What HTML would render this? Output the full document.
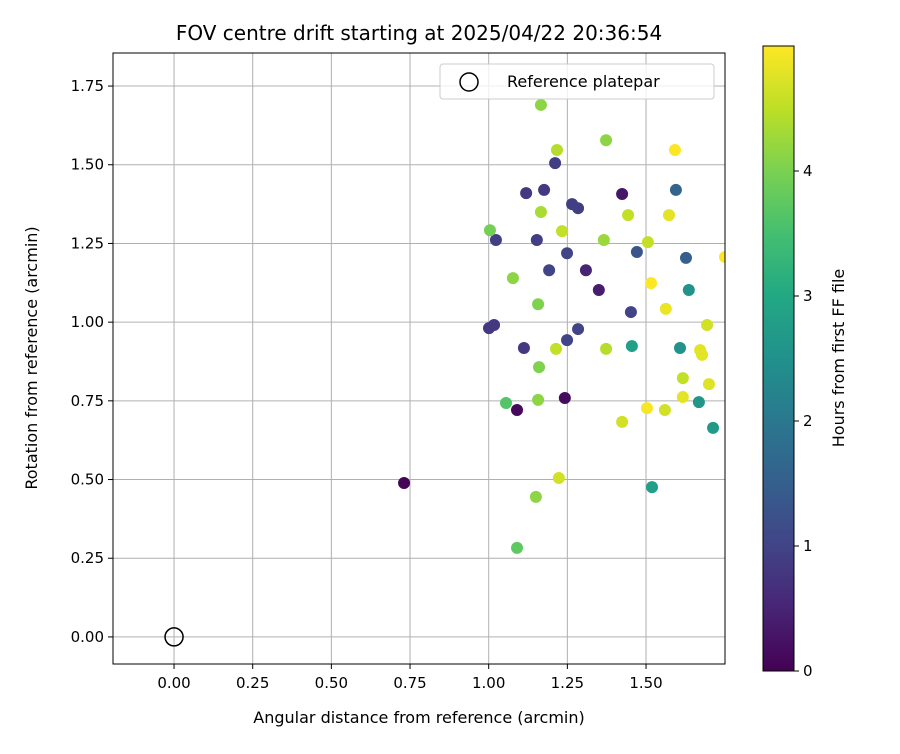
<!DOCTYPE html>
<html><head><meta charset="utf-8"><style>
body{margin:0;background:#fff;font-family:"DejaVu Sans","Liberation Sans",sans-serif}
text{font-family:"DejaVu Sans","Liberation Sans",sans-serif;fill:#000}
</style></head><body>
<svg id="c" width="900" height="750" xmlns="http://www.w3.org/2000/svg">
<defs><linearGradient id="vir" x1="0" y1="1" x2="0" y2="0">
<stop offset="0" stop-color="#440154"/><stop offset="0.1" stop-color="#482475"/><stop offset="0.2" stop-color="#414487"/><stop offset="0.3" stop-color="#355f8d"/><stop offset="0.4" stop-color="#2a788e"/><stop offset="0.5" stop-color="#21918c"/><stop offset="0.6" stop-color="#22a884"/><stop offset="0.7" stop-color="#44bf70"/><stop offset="0.8" stop-color="#7ad151"/><stop offset="0.9" stop-color="#bddf26"/><stop offset="1" stop-color="#fde725"/></linearGradient>
<clipPath id="clip"><rect x="113" y="53" width="612" height="611"/></clipPath></defs>
</svg>
<script>
const xs=[0.731,1.090,1.242,1.424,1.350,1.309,1.001,1.017,1.112,1.023,1.119,1.176,1.211,1.153,1.192,1.249,1.265,1.284,1.284,1.249,1.452,1.471,1.595,1.627,1.636,1.608,1.455,1.519,1.668,1.713,1.004,1.166,1.373,1.166,1.077,1.157,1.160,1.055,1.157,1.150,1.090,1.217,1.233,1.366,1.443,1.506,1.214,1.373,1.223,1.424,1.560,1.617,1.694,1.503,1.516,1.563,1.592,1.573,1.672,1.678,1.617,1.700,1.751];
const ys=[0.489,0.721,0.759,1.407,1.102,1.165,0.981,0.991,0.918,1.261,1.410,1.420,1.505,1.261,1.165,1.219,1.375,1.362,0.978,0.943,1.032,1.223,1.420,1.204,1.102,0.918,0.924,0.476,0.746,0.664,1.292,1.690,1.578,1.350,1.140,1.057,0.857,0.743,0.753,0.445,0.283,1.547,1.289,1.261,1.340,1.254,0.915,0.915,0.505,0.683,0.721,0.822,0.991,0.727,1.124,1.042,1.547,1.340,0.911,0.896,0.762,0.803,1.207];
const hs=[0.05,0.1,0.15,0.3,0.4,0.5,0.8,0.8,0.8,0.9,0.8,0.8,0.9,0.9,1.0,1.0,0.9,0.9,1.0,1.0,1.0,1.3,1.6,1.5,2.5,2.5,2.8,2.8,2.6,2.7,3.9,4.1,4.1,4.3,4.1,4.0,4.0,3.6,4.1,4.1,3.7,4.4,4.5,4.2,4.5,4.5,4.5,4.4,4.6,4.6,4.6,4.5,4.6,4.9,4.95,4.8,4.95,4.75,4.75,4.75,4.75,4.7,4.95];
const xTicks=[0,0.25,0.5,0.75,1,1.25,1.5];
const yTicks=[0,0.25,0.5,0.75,1,1.25,1.5,1.75];
const cTicks=[0,1,2,3,4];
const L=113,R=725,T=53,B=664,x0=-0.194,x1=1.751,y0=-0.086,y1=1.855;
const X=v=>L+(v-x0)/(x1-x0)*(R-L), Y=v=>B-(v-y0)/(y1-y0)*(B-T);
const cT=46,cB=671,hMax=5.0, CY=v=>cB-v/hMax*(cB-cT);
const vir=[[68,1,84],[72,36,117],[65,68,135],[53,95,141],[42,120,142],[33,145,140],[34,168,132],[68,191,112],[122,209,81],[189,223,38],[253,231,37]];
function col(h){let t=Math.min(1,Math.max(0,h/4.95))*10;const i=Math.min(9,Math.floor(t)),f=t-i;const a=vir[i],b=vir[i+1];return `rgb(${a.map((v,k)=>Math.round(v+(b[k]-v)*f)).join(',')})`;}
const svg=document.getElementById('c');const NS='http://www.w3.org/2000/svg';
function mk(tag,at,name,parent){const e=document.createElementNS(NS,tag);for(const k in at)e.setAttribute(k,at[k]);


(parent||svg).appendChild(e);return e;}
function txt(s,at,name){const e=mk('text',at,name);e.textContent=s;return e;}
xTicks.forEach(v=>{const x=X(v);mk('line',{x1:x,x2:x,y1:T,y2:B,stroke:'#b0b0b0','stroke-width':1},'x-grid-line');mk('line',{x1:x,x2:x,y1:B,y2:B+5,stroke:'#000'},'x-tick');txt(v.toFixed(2),{x:x,y:B+24,'text-anchor':'middle','font-size':'15'},'x-tick-label');});
yTicks.forEach(v=>{const y=Y(v);mk('line',{x1:L,x2:R,y1:y,y2:y,stroke:'#b0b0b0','stroke-width':1},'y-grid-line');mk('line',{x1:L-5,x2:L,y1:y,y2:y,stroke:'#000'},'y-tick');txt(v.toFixed(2),{x:L-9,y:y+5,'text-anchor':'end','font-size':'15'},'y-tick-label');});
const g=mk('g',{'clip-path':'url(#clip)'},'scatter-points');
xs.forEach((v,i)=>{mk('circle',{cx:X(v),cy:Y(ys[i]),r:6,fill:col(hs[i])},'drift-point',g);});
mk('circle',{cx:X(0),cy:Y(0),r:9,fill:'none',stroke:'#000','stroke-width':1.5},'reference-marker');
mk('rect',{x:L,y:T,width:R-L,height:B-T,fill:'none',stroke:'#000','stroke-width':1},'plot-frame');
mk('rect',{x:440,y:64,width:274,height:35,rx:3,fill:'rgba(255,255,255,0.8)',stroke:'#ccc'},'legend-box');
mk('circle',{cx:469,cy:82,r:9,fill:'none',stroke:'#000','stroke-width':1.5},'legend-marker');
txt('Reference platepar',{x:507,y:87,'font-size':'16'},'legend-label');
txt('FOV centre drift starting at 2025/04/22 20:36:54',{x:419,y:40,'text-anchor':'middle','font-size':'20'},'chart-title');
txt('Angular distance from reference (arcmin)',{x:419,y:723,'text-anchor':'middle','font-size':'16'},'x-axis-title');
txt('Rotation from reference (arcmin)',{x:37,y:358,'text-anchor':'middle','font-size':'16',transform:'rotate(-90 37 358)'},'y-axis-title');
mk('rect',{x:763,y:cT,width:31,height:cB-cT,fill:'url(#vir)',stroke:'#000'},'colorbar');
cTicks.forEach(v=>{const y=CY(v);mk('line',{x1:794,x2:799,y1:y,y2:y,stroke:'#000'},'colorbar-tick');txt(String(v),{x:803,y:y+5,'font-size':'15'},'colorbar-tick-label');});
txt('Hours from first FF file',{x:844,y:358,'text-anchor':'middle','font-size':'16',transform:'rotate(-90 844 358)'},'colorbar-title');
</script>
</body></html>
